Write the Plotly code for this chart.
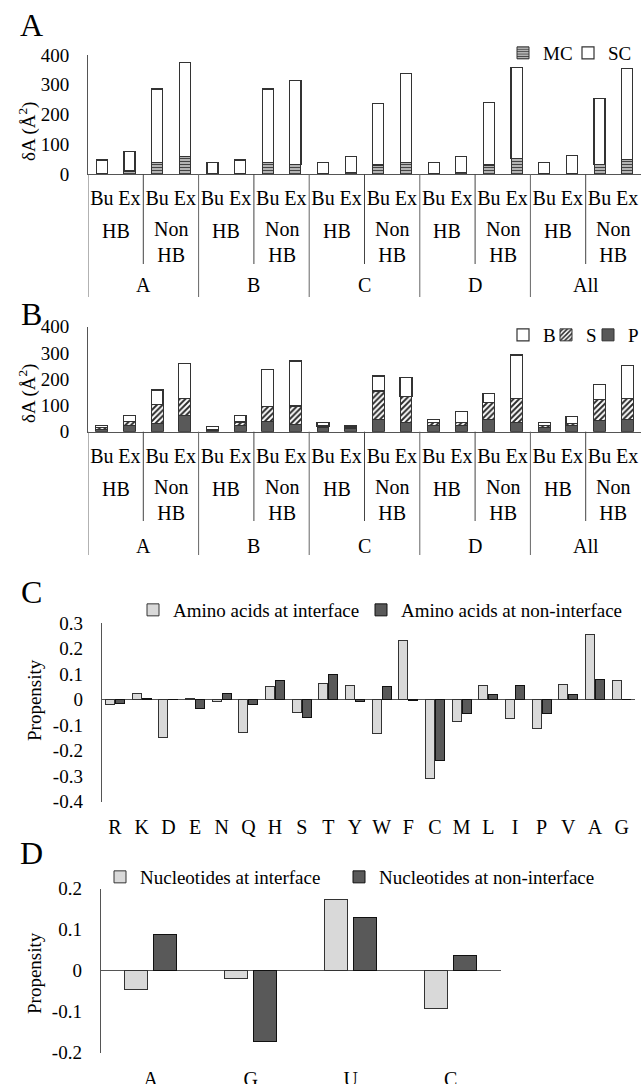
import plotly.graph_objects as go

W, H = 641, 1084
def fx(px): return px / W
def fy(py): return 1 - py / H

FONT = "Liberation Serif"

# ---------------- data ----------------
groups = ["A", "B", "C", "D", "All"]
hb_types = ["HB", "Non<br>HB"]
positions = ["Bu", "Ex"]

# Panel A (per group: HB Bu, HB Ex, NonHB Bu, NonHB Ex)
A_mc = [3, 10, 38, 60, 3, 2, 38, 32, 3, 5, 30, 38, 2, 5, 30, 51, 3, 3, 32, 49]
A_sc = [44, 65, 248, 316, 35, 45, 248, 282, 37, 53, 208, 300, 36, 53, 211, 306, 37, 60, 221, 305]

# Panel B
B_p = [10, 25, 32, 60, 5, 25, 38, 29, 15, 14, 47, 36, 25, 22, 45, 36, 15, 23, 41, 45]
B_s = [5, 13, 73, 67, 3, 12, 57, 69, 7, 4, 108, 97, 9, 12, 67, 91, 10, 9, 83, 82]
B_b = [8, 25, 54, 133, 12, 25, 143, 171, 14, 6, 57, 73, 13, 42, 34, 165, 9, 25, 56, 124]

# Panel C
amino = ["R", "K", "D", "E", "N", "Q", "H", "S", "T", "Y", "W", "F", "C", "M", "L", "I", "P", "V", "A", "G"]
aa_int = [-0.017, 0.025, -0.15, 0.003, -0.005, -0.128, 0.051, -0.05, 0.065, 0.055,
          -0.131, 0.234, -0.309, -0.086, 0.055, -0.073, -0.111, 0.059, 0.255, 0.075]
aa_non = [-0.015, 0.005, 0.002, -0.033, 0.025, -0.02, 0.077, -0.07, 0.098, -0.005,
          0.051, -0.003, -0.237, -0.054, 0.022, 0.055, -0.054, 0.022, 0.078, 0.0]

# Panel D
nucl = ["A", "G", "U", "C"]
nt_int = [-0.045, -0.018, 0.174, -0.092]
nt_non = [0.089, -0.173, 0.13, 0.037]

# ---------------- figure ----------------
fig = go.Figure()
nbar = len(A_mc)
xs = list(range(nbar))
ticktxt = [positions[i % 2] for i in xs]

LINE = "#333333"
LIGHT = "#d9d9d9"
DARK = "#595959"

fig.add_bar(x=xs, y=A_mc, name="MC", xaxis="x", yaxis="y", width=0.4, legend="legend",
            marker=dict(color="#c0c0c0", line=dict(color=LINE, width=1),
                        pattern=dict(shape="-", fgcolor="#444", bgcolor="#c0c0c0", size=3, solidity=0.4)))
fig.add_bar(x=xs, y=A_sc, name="SC", xaxis="x", yaxis="y", width=0.4, legend="legend2",
            marker=dict(color="white", line=dict(color=LINE, width=1.2)))

fig.add_bar(x=xs, y=B_p, name="P", xaxis="x2", yaxis="y2", width=0.43, legend="legend5",
            marker=dict(color=DARK, line=dict(color=LINE, width=1)))
fig.add_bar(x=xs, y=B_s, name="S", xaxis="x2", yaxis="y2", width=0.43, legend="legend4",
            marker=dict(color="white", line=dict(color=LINE, width=1),
                        pattern=dict(shape="/", fgcolor="#2a2a2a", bgcolor="white", size=4, solidity=0.5)))
fig.add_bar(x=xs, y=B_b, name="B", xaxis="x2", yaxis="y2", width=0.43, legend="legend3",
            marker=dict(color="white", line=dict(color=LINE, width=1.2)))

naa = len(amino)
fig.add_bar(x=[i - 0.19 for i in range(naa)], y=aa_int, width=0.34, name="Amino acids at interface",
            xaxis="x3", yaxis="y3", legend="legend6",
            marker=dict(color=LIGHT, line=dict(color=LINE, width=1)))
fig.add_bar(x=[i + 0.19 for i in range(naa)], y=aa_non, width=0.34, name="Amino acids at non-interface",
            xaxis="x3", yaxis="y3", legend="legend7",
            marker=dict(color=DARK, line=dict(color="#111", width=1)))

nn = len(nucl)
fig.add_bar(x=[i - 0.1425 for i in range(nn)], y=nt_int, width=0.23, name="Nucleotides at interface",
            xaxis="x4", yaxis="y4", legend="legend8",
            marker=dict(color=LIGHT, line=dict(color=LINE, width=1)))
fig.add_bar(x=[i + 0.1425 for i in range(nn)], y=nt_non, width=0.23, name="Nucleotides at non-interface",
            xaxis="x4", yaxis="y4", legend="legend9",
            marker=dict(color=DARK, line=dict(color="#111", width=1)))

tickfont = dict(family=FONT, size=19, color="black")
xcat = dict(showgrid=False, zeroline=False, showline=True, linecolor="#555", linewidth=1,
            ticks="", tickfont=dict(family=FONT, size=20, color="black"), fixedrange=True,
            automargin=False)
ybase = dict(showgrid=False, showline=True, linecolor="#555", linewidth=1, ticks="",
             tickfont=tickfont, ticklabelstandoff=14, automargin=False)
legfont = dict(family=FONT, size=19, color="black")

def leg(px_left, py_mid):
    return dict(orientation="h", x=fx(px_left), xanchor="left", y=fy(py_mid), yanchor="middle",
                traceorder="normal", font=legfont, bgcolor="rgba(0,0,0,0)")

fig.update_layout(
    template="none",
    width=W, height=H, autosize=False,
    margin=dict(l=0, r=0, t=0, b=0, autoexpand=False),
    paper_bgcolor="white", plot_bgcolor="white",
    barmode="stack", showlegend=True,
    font=dict(family=FONT, color="black"),
    xaxis=dict(xcat, domain=[fx(88), 1.0], range=[-0.5, nbar - 0.5], anchor="y",
               tickvals=xs, ticktext=ticktxt, ticklabelstandoff=6),
    yaxis=dict(ybase, domain=[fy(174), fy(55)], range=[0, 400], tickvals=[0, 100, 200, 300, 400],
               zeroline=False, anchor="x"),
    xaxis2=dict(xcat, domain=[fx(88), 1.0], range=[-0.5, nbar - 0.5], anchor="y2",
                tickvals=xs, ticktext=ticktxt, ticklabelstandoff=6),
    yaxis2=dict(ybase, domain=[fy(431.7), fy(326.7)], range=[0, 400], tickvals=[0, 100, 200, 300, 400],
                zeroline=False, anchor="x2"),
    xaxis3=dict(showgrid=False, zeroline=False, showline=False, ticks="", anchor="y3", automargin=False,
                domain=[fx(101.7), fx(635)], range=[-0.5, naa - 0.5],
                tickvals=list(range(naa)), ticktext=amino, ticklabelstandoff=11,
                tickfont=dict(family=FONT, size=20, color="black")),
    yaxis3=dict(ybase, domain=[fy(801.7), fy(623.3)], range=[-0.4, 0.3],
                tickvals=[-0.4, -0.3, -0.2, -0.1, 0, 0.1, 0.2, 0.3],
                ticktext=["-0.4", "-0.3", "-0.2", "-0.1", "0", "0.1", "0.2", "0.3"],
                zeroline=True, zerolinecolor="#555", zerolinewidth=1.2, anchor="x3"),
    xaxis4=dict(showgrid=False, zeroline=False, showline=False, ticks="", anchor="y4", automargin=False,
                domain=[fx(100.7), fx(500.7)], range=[-0.5, nn - 0.5],
                tickvals=list(range(nn)), ticktext=nucl, ticklabelstandoff=12,
                tickfont=dict(family=FONT, size=20, color="black")),
    yaxis4=dict(ybase, domain=[fy(1052.7), fy(888.7)], range=[-0.2, 0.2],
                tickvals=[-0.2, -0.1, 0, 0.1, 0.2], ticktext=["-0.2", "-0.1", "0", "0.1", "0.2"],
                zeroline=True, zerolinecolor="#555", zerolinewidth=1.2, anchor="x4"),
    legend=leg(503, 53),
    legend2=leg(568, 53),
    legend3=leg(503, 335),
    legend4=leg(546, 335),
    legend5=leg(588, 335),
    legend6=leg(133, 610),
    legend7=leg(361, 610),
    legend8=leg(100, 877),
    legend9=leg(339, 877),
)

shapes = []
annotations = []

def add_category_labels(xref, axis_py, hb_py, grp_py, inner_bottom, outer_bottom):
    for g, gname in enumerate(groups):
        base = 4 * g
        shapes.append(dict(type="line", xref=xref, yref="paper", x0=base - 0.5, x1=base - 0.5,
                           y0=fy(axis_py), y1=fy(outer_bottom), line=dict(color="#666", width=1)))
        shapes.append(dict(type="line", xref=xref, yref="paper", x0=base + 1.5, x1=base + 1.5,
                           y0=fy(axis_py), y1=fy(inner_bottom), line=dict(color="#444", width=1)))
        for k, t in enumerate(hb_types):
            yy = hb_py if k == 0 else hb_py + 11
            annotations.append(dict(xref=xref, yref="paper", x=base + 0.5 + 2 * k, y=fy(yy),
                                    text=t, showarrow=False, yanchor="middle",
                                    font=dict(family=FONT, size=20, color="black")))
        annotations.append(dict(xref=xref, yref="paper", x=base + 1.5, y=fy(grp_py), text=gname,
                                showarrow=False, yanchor="middle",
                                font=dict(family=FONT, size=20, color="black")))

add_category_labels("x", 174, 231, 285, 264, 297)
add_category_labels("x2", 431.7, 489, 546, 521, 555)

for letter, (lx, ly) in zip(["A", "B", "C", "D"], [(31, 25), (31, 314), (31, 592), (31, 853)]):
    annotations.append(dict(xref="paper", yref="paper", x=fx(lx), y=fy(ly), text=letter,
                            showarrow=False, xanchor="center", yanchor="middle",
                            font=dict(family=FONT, size=32, color="black")))

for txt, (tx, ty) in zip(["δA (Å<sup>2</sup>)", "δA (Å<sup>2</sup>)", "Propensity", "Propensity"],
                         [(27, 132), (27, 394), (34, 700), (34, 973)]):
    annotations.append(dict(xref="paper", yref="paper", x=fx(tx), y=fy(ty), text=txt, textangle=-90,
                            showarrow=False, xanchor="center", yanchor="middle",
                            font=dict(family=FONT, size=19, color="black")))

fig.update_layout(shapes=shapes, annotations=annotations)
fig.write_html("out.html", config={"displayModeBar": False},
               post_script="document.body.style.margin='0px';document.body.style.overflow='hidden';")
